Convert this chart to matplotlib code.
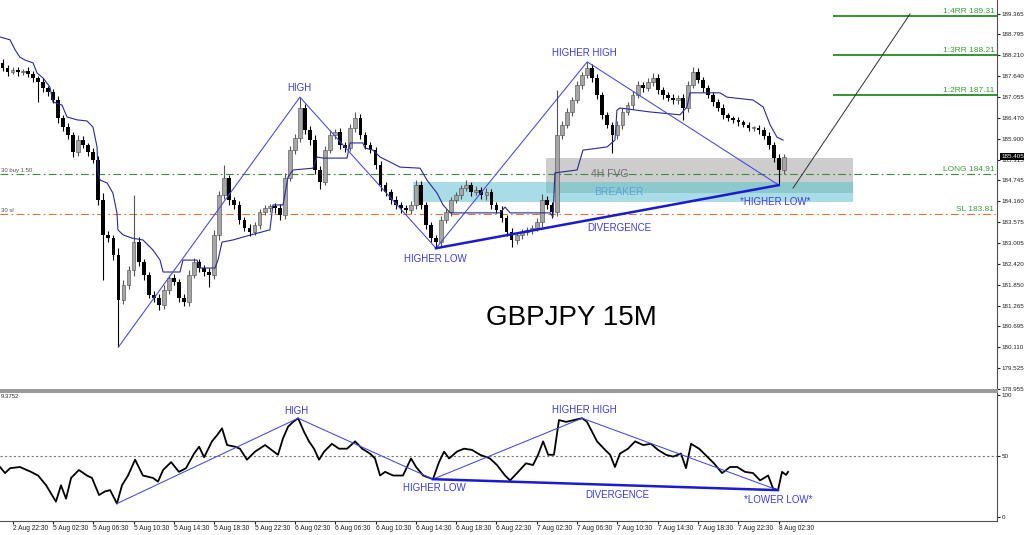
import numpy as np
import matplotlib
matplotlib.use("Agg")
import matplotlib.pyplot as plt
import matplotlib.transforms as mtransforms
from matplotlib.patches import Rectangle

plt.rcParams['font.family'] = ['Liberation Sans', 'DejaVu Sans']

# 1- Candle data (one candle per 30 min, x axis counted in 15M bars)
first_open = 188.00
closes = [187.86, 187.75, 187.80, 187.75, 187.78, 187.69, 187.58, 187.47, 187.30, 187.19, 186.97, 186.47,
          186.22, 186.00, 185.53, 185.86, 185.72, 185.53, 185.31, 184.20, 183.22, 183.14, 182.67, 181.42,
          181.84, 182.25, 183.03, 182.47, 182.11, 181.56, 181.48, 181.28, 181.70, 182.03, 181.92, 181.48,
          181.37, 182.11, 182.47, 182.31, 182.20, 182.11, 183.22, 184.33, 184.80, 184.20, 184.06, 183.64,
          183.42, 183.31, 183.50, 183.86, 183.97, 184.03, 183.97, 183.78, 184.80, 185.58, 185.92, 186.75,
          186.14, 185.86, 185.03, 184.70, 185.58, 186.00, 186.08, 185.72, 185.64, 186.19, 186.47, 186.00,
          185.72, 185.58, 185.17, 184.61, 184.42, 184.20, 184.06, 183.97, 183.92, 184.06, 184.61, 184.06,
          183.50, 183.14, 183.03, 183.64, 183.86, 184.20, 184.33, 184.53, 184.61, 184.42, 184.47, 184.33,
          184.42, 184.06, 183.92, 183.70, 183.31, 183.09, 183.22, 183.31, 183.36, 183.42, 183.58, 184.20,
          184.06, 183.86, 186.00, 186.28, 186.64, 186.97, 187.39, 187.66, 187.86, 187.58, 187.11, 186.55,
          186.28, 186.00, 186.28, 186.64, 186.83, 187.11, 187.39, 187.30, 187.47, 187.58, 187.25, 187.11,
          187.03, 186.97, 187.03, 186.75, 187.39, 187.75, 187.53, 187.30, 187.11, 186.91, 186.75, 186.55,
          186.47, 186.42, 186.36, 186.28, 186.19, 186.19, 186.14, 185.97, 185.72, 185.36, 185.03, 185.40]
wick_up = [0.12, 0.08, 0.10, 0.09, 0.06, 0.10, 0.08, 0.07, 0.10, 0.06, 0.09, 0.12, 0.08,
           0.10, 0.08, 0.15, 0.10, 0.07, 0.12, 0.10, 0.18, 0.12, 0.09, 0.20, 0.15, 0.12,
           1.30, 0.15, 0.10, 0.08, 0.12, 0.10, 0.14, 0.10, 0.12, 0.09, 0.10, 0.15, 0.12,
           0.10, 0.08, 0.11, 0.15, 0.12, 0.37, 0.10, 0.09, 0.12, 0.08, 0.10, 0.09, 0.08,
           0.10, 0.07, 0.09, 0.12, 0.15, 0.12, 0.10, 0.30, 0.12, 0.10, 0.14, 0.10, 0.12,
           0.10, 0.10, 0.12, 0.09, 0.12, 0.17, 0.10, 0.08, 0.10, 0.09, 0.12, 0.10, 0.08,
           0.10, 0.07, 0.09, 0.10, 0.14, 0.12, 0.08, 0.10, 0.09, 0.12, 0.10, 0.08, 0.10,
           0.09, 0.14, 0.10, 0.12, 0.08, 0.10, 0.09, 0.07, 0.10, 0.08, 0.10, 0.09, 0.08,
           0.10, 0.07, 0.12, 0.15, 0.10, 0.08, 1.25, 0.12, 0.10, 0.09, 0.12, 0.10, 0.17,
           0.12, 0.10, 0.08, 0.10, 0.09, 0.12, 0.10, 0.08, 0.10, 0.12, 0.09, 0.10, 0.14,
           0.10, 0.08, 0.09, 0.10, 0.07, 0.10, 0.12, 0.14, 0.10, 0.08, 0.09, 0.07, 0.08,
           0.10, 0.07, 0.06, 0.08, 0.07, 0.09, 0.06, 0.08, 0.07, 0.10, 0.08, 0.12, 0.08]
wick_dn = [0.08, 0.10, 0.07, 0.12, 0.09, 0.08, 0.10, 0.55, 0.12, 0.10, 0.08, 0.15, 0.10,
           0.12, 0.15, 0.10, 0.08, 0.12, 0.10, 0.15, 1.24, 0.12, 0.15, 1.30, 0.12, 0.10,
           0.15, 0.10, 0.12, 0.08, 0.10, 0.14, 0.10, 0.12, 0.09, 0.10, 0.12, 0.10, 0.08,
           0.10, 0.12, 0.33, 0.10, 0.12, 0.10, 0.15, 0.10, 0.12, 0.09, 0.10, 0.08, 0.10,
           0.09, 0.10, 0.12, 0.15, 0.10, 0.08, 0.12, 0.10, 0.10, 0.15, 0.12, 0.20, 0.10,
           0.09, 0.10, 0.12, 0.10, 0.08, 0.10, 0.12, 0.10, 0.09, 0.12, 0.15, 0.10, 0.12,
           0.10, 0.12, 0.09, 0.10, 0.12, 0.10, 0.12, 0.10, 0.17, 0.10, 0.08, 0.10, 0.09,
           0.10, 0.08, 0.12, 0.09, 0.10, 0.12, 0.10, 0.09, 0.12, 0.10, 0.20, 0.12, 0.10,
           0.09, 0.10, 0.08, 0.12, 0.10, 0.15, 0.10, 0.12, 0.09, 0.10, 0.08, 0.10, 0.09,
           0.10, 0.12, 0.10, 0.09, 0.50, 0.10, 0.12, 0.09, 0.10, 0.08, 0.10, 0.09, 0.10,
           0.12, 0.10, 0.09, 0.10, 0.12, 0.33, 0.10, 0.09, 0.10, 0.12, 0.09, 0.10, 0.08,
           0.10, 0.09, 0.08, 0.10, 0.07, 0.09, 0.08, 0.10, 0.09, 0.12, 0.10, 0.42, 0.10]

# 2- Trailing line (vertices, bar / price)
ma_bar = [0, 4.0, 6.0, 7.9, 9.9, 13.1, 14.7, 17.1, 19.8, 21.0, 24.6, 26.6, 30.6, 34.5, 36.9, 38.5,
          38.9, 39.7, 42.5, 44.8, 46.4, 46.8, 48.8, 52.4, 56.7, 60.7, 63.5, 64.7, 71.4, 72.6, 78.2,
          79.4, 85.3, 86.5, 88.1, 92.5, 98.0, 107.1, 108.3, 112.3, 114.3, 116.3, 124.2, 125.8, 128.2,
          137.7, 138.9, 144.0, 144.8, 148.0, 150.8, 154.8, 158.7, 166.7, 169.4, 173.4, 175.8, 178.6,
          198.4, 200.4, 202.4, 218.3, 219.4, 220.2, 229.0, 231.3, 240.9, 244.0, 244.8, 246.0, 257.9,
          269.8, 272.6, 273.8, 285.7, 288.5, 298.8, 302.8, 305.6, 308.3, 310.7]
ma_price = [188.72, 188.64, 188.36, 188.16, 188.08, 188.00, 187.72, 187.58, 187.33, 186.92, 186.83,
            186.50, 186.42, 186.39, 186.22, 185.67, 184.95, 184.75, 184.67, 184.39, 183.84, 183.37,
            183.23, 183.14, 183.09, 182.81, 182.53, 182.20, 182.20, 182.53, 182.53, 182.31, 182.31,
            182.53, 183.03, 183.09, 183.20, 183.37, 184.06, 184.06, 184.84, 185.03, 185.08, 185.39,
            185.36, 185.36, 185.78, 185.78, 185.64, 185.58, 185.39, 185.25, 185.11, 185.08, 184.75,
            184.39, 184.06, 183.84, 183.84, 184.00, 183.84, 183.84, 183.73, 184.95, 185.03, 185.58,
            185.67, 185.86, 186.69, 186.75, 186.64, 186.56, 186.78, 187.17, 187.17, 187.05, 186.97,
            186.78, 186.28, 185.94, 185.86]

# 3- Oscillator (lower panel)
osc_bar = [0, 2.0, 4.0, 7.9, 12.3, 15.1, 18.3, 22.2, 24.2, 26.2, 28.2, 31.3, 34.5, 36.5, 39.3, 41.7,
           43.7, 46.4, 48.4, 50.8, 53.6, 56.7, 60.7, 62.7, 64.7, 67.9, 71.0, 73.8, 77.0, 79.0, 81.0,
           84.1, 86.1, 88.1, 90.1, 93.3, 95.2, 98.0, 101.2, 105.2, 107.1, 110.3, 112.3, 114.3, 116.3,
           118.3, 120.6, 122.6, 124.6, 126.6, 128.6, 131.7, 134.5, 137.7, 140.9, 143.7, 146.8, 148.8,
           150.8, 152.8, 156.0, 159.9, 163.1, 165.1, 167.9, 171.8, 174.2, 176.2, 178.2, 181.3, 184.1,
           187.3, 190.5, 194.4, 197.2, 200.4, 202.4, 205.6, 208.7, 211.5, 213.5, 215.5, 217.5, 219.8,
           221.8, 224.6, 227.8, 231.0, 232.9, 234.9, 236.9, 240.1, 242.1, 244.0, 246.0, 249.2, 252.0,
           255.2, 258.3, 261.1, 264.3, 267.1, 270.2, 272.2, 274.2, 277.4, 280.6, 283.3, 286.5, 289.7,
           292.5, 295.6, 298.8, 301.6, 304.8, 306.7, 308.7, 310.3, 311.9, 312.7]
osc_val = [41, 36, 40, 41, 37, 34, 26, 12.6, 26, 15, 32, 38.5, 34, 32, 18, 21,
           22, 11, 26, 34, 47, 34, 32, 29, 38.5, 45, 37, 40, 52, 57.6, 49,
           62, 67, 72.7, 59, 57.6, 56, 47, 53.6, 59, 56, 51, 64.5, 74, 78,
           81, 70, 62, 56, 47, 53.6, 60, 56, 56, 62, 56, 52, 48,
           34, 37, 34, 34, 48, 41, 34, 31, 45, 53.6, 48, 53.6, 56,
           55, 51, 48, 42.6, 34, 30, 37, 44, 42.6, 51, 62, 51, 51,
           79.5, 78, 79.5, 81, 78, 70, 62, 55, 51, 41, 52, 56, 62,
           59, 60, 55, 51, 49.5, 52, 40, 60, 56, 49.5, 44, 36, 41,
           41, 37, 36, 30, 34, 23.5, 22, 37, 34.5, 37]

# 4- Trade levels and zones
rr_names = ["1:4RR", "1:3RR", "1:2RR"]
rr_levels = [189.31, 188.21, 187.11]
rr_start = 330.6
long_level = 184.91
sl_level = 183.81
last_price = 185.405
fvg_zone = [216.7, 338.5, 184.39, 185.36]       # x0, x1, y0, y1
breaker_zone = [163.9, 338.5, 184.14, 184.70]
proj_bar = [314.7, 361.1]
proj_price = [184.53, 189.36]

# swing points (candle index, kind)
pivots = [23, 59, 86, 116, 154]
pivot_kind = ["low", "high", "low", "high", "low"]

price_ticks = [189.365, 188.795, 188.210, 187.640, 187.055, 186.470, 185.900, 185.315, 184.745,
               184.160, 183.575, 183.005, 182.420, 181.850, 181.265, 180.695, 180.110, 179.525, 178.955]
time_labels = ["2 Aug 22:30", "5 Aug 02:30", "5 Aug 06:30", "5 Aug 10:30", "5 Aug 14:30",
               "5 Aug 18:30", "5 Aug 22:30", "6 Aug 02:30", "6 Aug 06:30", "6 Aug 10:30",
               "6 Aug 14:30", "6 Aug 18:30", "6 Aug 22:30", "7 Aug 02:30", "7 Aug 06:30",
               "7 Aug 10:30", "7 Aug 14:30", "7 Aug 18:30", "7 Aug 22:30", "8 Aug 02:30"]

# 5- Derived candle values
closes = np.array(closes)
opens = np.concatenate([[first_open], closes[:-1]])
highs = np.maximum(opens, closes) + np.array(wick_up)
lows = np.minimum(opens, closes) - np.array(wick_dn)
xc = 2 * np.arange(len(closes)) + 1
up = closes >= opens

piv_x = xc[pivots]
piv_y = np.array([lows[i] if k == "low" else highs[i] for i, k in zip(pivots, pivot_kind)])

osc_bar = np.array(osc_bar)
osc_val = np.array(osc_val)
osc_piv = []
for px_, k in zip(piv_x, pivot_kind):
    win = np.where(np.abs(osc_bar - px_) <= 8)[0]
    j = win[np.argmin(osc_val[win])] if k == "low" else win[np.argmax(osc_val[win])]
    osc_piv.append(j)
osc_piv = np.array(osc_piv)

XMAX = 395.6
BLUE = "#4646e0"
BLUE_TXT = "#3d3dd9"
DIV_BLUE = "#1a1ad2"

fig = plt.figure(figsize=(10.24, 5.35), dpi=100)
ax1 = fig.add_axes([0, 1 - 390 / 535, 997 / 1024, 390 / 535])
ax2 = fig.add_axes([0, 1 - 521 / 535, 997 / 1024, 129 / 535])

# ---- main panel ----
ax1.set_xlim(0, XMAX)
ax1.set_ylim(178.927, 189.745)

teal = Rectangle((breaker_zone[0], breaker_zone[2]), breaker_zone[1] - breaker_zone[0],
                 breaker_zone[3] - breaker_zone[2], fc="#a9dce6", ec="none", zorder=0.5)
gray = Rectangle((fvg_zone[0], fvg_zone[2]), fvg_zone[1] - fvg_zone[0],
                 fvg_zone[3] - fvg_zone[2], fc="#cdcdcd", ec="none", zorder=0.6)
ox0, ox1 = max(fvg_zone[0], breaker_zone[0]), min(fvg_zone[1], breaker_zone[1])
oy0, oy1 = max(fvg_zone[2], breaker_zone[2]), min(fvg_zone[3], breaker_zone[3])
overlap = Rectangle((ox0, oy0), ox1 - ox0, oy1 - oy0, fc="#8dc8cc", ec="none", zorder=0.7)
for r in (teal, gray, overlap):
    ax1.add_patch(r)

ax1.axhline(long_level, color="#3d8c3d", lw=0.8, ls=(0, (7, 3, 1.5, 3)), zorder=1)
ax1.axhline(sl_level, color="#d9773a", lw=0.8, ls=(0, (7, 3, 1.5, 3)), zorder=1)
ax1.hlines(rr_levels, rr_start, XMAX, color="#228b22", lw=1.3, zorder=2)
for name, lvl in zip(rr_names, rr_levels):
    ax1.text(XMAX - 1, lvl + 0.03, f"{name} {lvl:.2f}", ha="right", va="bottom",
             fontsize=6, color="#3c9a3c")
ax1.text(XMAX - 1, long_level + 0.03, f"LONG {long_level:.2f}", ha="right", va="bottom",
         fontsize=6, color="#3c9a3c")
ax1.text(XMAX - 1, sl_level + 0.03, f"SL {sl_level:.2f}", ha="right", va="bottom",
         fontsize=6, color="#3c9a3c")
ax1.text(0.3, long_level + 0.03, "30 buy 1.50", ha="left", va="bottom", fontsize=4.3, color="#505050")
ax1.text(0.3, sl_level + 0.03, "30 sl", ha="left", va="bottom", fontsize=4.3, color="#505050")

# trailing line
ax1.plot(ma_bar, ma_price, color="#2a2a96", lw=0.8, zorder=5)

# candles
ax1.vlines(xc, lows, highs, colors=np.where(up, "#555555", "black"), lw=0.8, zorder=3)
body = np.maximum(np.abs(closes - opens), 0.02)
ax1.bar(xc[up], body[up], bottom=opens[up], width=1.5, color="#a6a6a6",
        edgecolor="#4a4a4a", lw=0.4, zorder=4)
ax1.bar(xc[~up], body[~up], bottom=closes[~up], width=1.5, color="black", lw=0, zorder=4)

# swing structure
ax1.plot(piv_x, piv_y, color=BLUE, lw=0.75, zorder=6)
ax1.plot(piv_x[[2, 4]], piv_y[[2, 4]], color=DIV_BLUE, lw=1.8, zorder=6)
ax1.plot(proj_bar, proj_price, color="#303030", lw=0.7, zorder=6)

lab = dict(fontsize=7, color=BLUE_TXT, ha="center", va="center", zorder=7)
ax1.text(118.7, 187.30, "HIGH", **lab)
ax1.text(231.7, 188.27, "HIGHER HIGH", **lab)
ax1.text(172.6, 182.56, "HIGHER LOW", **lab)
ax1.text(245.6, 183.42, "DIVERGENCE", **lab)
ax1.text(307.5, 184.14, "*HIGHER LOW*", **lab)
ax1.text(242.0, 184.92, "4H FVG", fontsize=7.5, color="#6e6e6e", ha="center", va="center", zorder=7)
ax1.text(245.6, 184.42, "BREAKER", fontsize=7.5, color="#5aa5dc", ha="center", va="center", zorder=7)
ax1.text(226.6, 180.92, "GBPJPY 15M", fontsize=20, color="black", ha="center", va="center", zorder=7)

ax1.yaxis.tick_right()
ax1.set_yticks(price_ticks)
ax1.set_yticklabels([f"{v:.3f}" for v in price_ticks])
ax1.tick_params(axis="y", labelsize=4.5, length=2, pad=1.5, colors="#202020")
ax1.set_xticks([])
tr = mtransforms.blended_transform_factory(ax1.transAxes, ax1.transData)
ax1.text(1.004, last_price, f"{last_price:.3f}", transform=tr, fontsize=4.5, color="white",
         ha="left", va="center", clip_on=False,
         bbox=dict(boxstyle="square,pad=0.15", fc="black", ec="none"))
for s in ("left", "top"):
    ax1.spines[s].set_visible(False)
ax1.spines["right"].set_color("#505050")
ax1.spines["bottom"].set_color("#9a9a9a")
ax1.spines["bottom"].set_linewidth(1.5)

# ---- oscillator panel ----
ax2.set_xlim(0, XMAX)
ax2.set_ylim(-3.3, 102.5)
ax2.axhline(50, color="#7a7a7a", lw=0.8, ls=(0, (2, 2)))
ax2.plot(osc_bar, osc_val, color="black", lw=1.3, zorder=3)
ax2.plot(osc_bar[osc_piv], osc_val[osc_piv], color=BLUE, lw=0.75, zorder=4)
ax2.plot(osc_bar[osc_piv[[2, 4]]], osc_val[osc_piv[[2, 4]]], color=DIV_BLUE, lw=1.8, zorder=4)
ax2.text(117.5, 87, "HIGH", **lab)
ax2.text(231.7, 87.5, "HIGHER HIGH", **lab)
ax2.text(172.2, 24, "HIGHER LOW", **lab)
ax2.text(244.8, 18, "DIVERGENCE", **lab)
ax2.text(308.7, 14, "*LOWER LOW*", **lab)
ax2.text(0.3, 100.5, "9.3752", fontsize=4.3, color="#303030", ha="left", va="top")

ax2.yaxis.tick_right()
ax2.set_yticks([0, 50, 100])
ax2.tick_params(axis="y", labelsize=4.5, length=2, pad=1.5, colors="#202020")
ax2.set_xticks([5 + 16 * k for k in range(len(time_labels))])
ax2.set_xticklabels(time_labels, ha="left")
ax2.tick_params(axis="x", labelsize=4.8, length=2, pad=1, colors="#202020")
ax2.spines["left"].set_visible(False)
ax2.spines["top"].set_color("#9a9a9a")
ax2.spines["top"].set_linewidth(1.5)
ax2.spines["right"].set_color("#505050")
ax2.spines["bottom"].set_color("#505050")

fig.savefig("out.png", dpi=100, facecolor="white")
